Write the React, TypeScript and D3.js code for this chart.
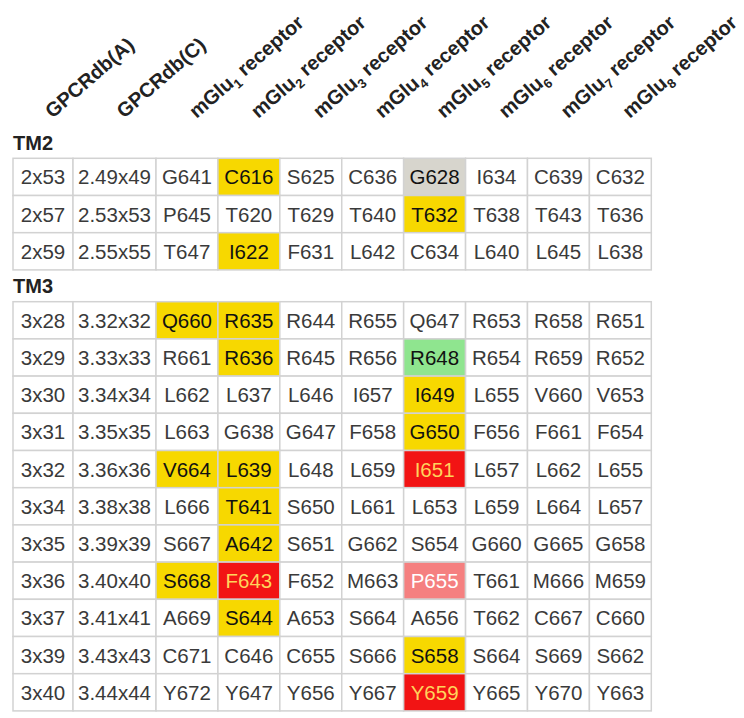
import React from "react";
import * as d3 from "d3";

// ---- data ----
const headerLabels: { main: string; sub?: string; rest?: string }[] = [
  { main: "GPCRdb(A)" },
  { main: "GPCRdb(C)" },
  { main: "mGlu", sub: "1", rest: " receptor" },
  { main: "mGlu", sub: "2", rest: " receptor" },
  { main: "mGlu", sub: "3", rest: " receptor" },
  { main: "mGlu", sub: "4", rest: " receptor" },
  { main: "mGlu", sub: "5", rest: " receptor" },
  { main: "mGlu", sub: "6", rest: " receptor" },
  { main: "mGlu", sub: "7", rest: " receptor" },
  { main: "mGlu", sub: "8", rest: " receptor" },
];

const sectionNames = ["TM2", "TM3"];

const tm2Rows: string[][] = [
  ["2x53", "2.49x49", "G641", "C616", "S625", "C636", "G628", "I634", "C639", "C632"],
  ["2x57", "2.53x53", "P645", "T620", "T629", "T640", "T632", "T638", "T643", "T636"],
  ["2x59", "2.55x55", "T647", "I622", "F631", "L642", "C634", "L640", "L645", "L638"],
];
// highlight codes: Y=yellow, R=red, P=pink, G=green, N=grey
const tm2Marks: string[][] = [
  ["", "", "", "Y", "", "", "N", "", "", ""],
  ["", "", "", "", "", "", "Y", "", "", ""],
  ["", "", "", "Y", "", "", "", "", "", ""],
];

const tm3Rows: string[][] = [
  ["3x28", "3.32x32", "Q660", "R635", "R644", "R655", "Q647", "R653", "R658", "R651"],
  ["3x29", "3.33x33", "R661", "R636", "R645", "R656", "R648", "R654", "R659", "R652"],
  ["3x30", "3.34x34", "L662", "L637", "L646", "I657", "I649", "L655", "V660", "V653"],
  ["3x31", "3.35x35", "L663", "G638", "G647", "F658", "G650", "F656", "F661", "F654"],
  ["3x32", "3.36x36", "V664", "L639", "L648", "L659", "I651", "L657", "L662", "L655"],
  ["3x34", "3.38x38", "L666", "T641", "S650", "L661", "L653", "L659", "L664", "L657"],
  ["3x35", "3.39x39", "S667", "A642", "S651", "G662", "S654", "G660", "G665", "G658"],
  ["3x36", "3.40x40", "S668", "F643", "F652", "M663", "P655", "T661", "M666", "M659"],
  ["3x37", "3.41x41", "A669", "S644", "A653", "S664", "A656", "T662", "C667", "C660"],
  ["3x39", "3.43x43", "C671", "C646", "C655", "S666", "S658", "S664", "S669", "S662"],
  ["3x40", "3.44x44", "Y672", "Y647", "Y656", "Y667", "Y659", "Y665", "Y670", "Y663"],
];
const tm3Marks: string[][] = [
  ["", "", "Y", "Y", "", "", "", "", "", ""],
  ["", "", "", "Y", "", "", "G", "", "", ""],
  ["", "", "", "", "", "", "Y", "", "", ""],
  ["", "", "", "", "", "", "Y", "", "", ""],
  ["", "", "Y", "Y", "", "", "R", "", "", ""],
  ["", "", "", "Y", "", "", "", "", "", ""],
  ["", "", "", "Y", "", "", "", "", "", ""],
  ["", "", "Y", "R", "", "", "P", "", "", ""],
  ["", "", "", "Y", "", "", "", "", "", ""],
  ["", "", "", "", "", "", "Y", "", "", ""],
  ["", "", "", "", "", "", "R", "", "", ""],
];

// ---- styles ----
const FONT = "'Liberation Sans', Arial, Helvetica, sans-serif";
const fillFor: Record<string, string> = {
  "": "#ffffff",
  Y: "#f7d800",
  R: "#f21414",
  P: "#f58080",
  G: "#8fe58f",
  N: "#d7d5cd",
};
const textFor: Record<string, string> = {
  "": "#3a3a3a",
  Y: "#111111",
  R: "#ffd35c",
  P: "#ffffff",
  G: "#111111",
  N: "#111111",
};

const W = 744;
const H = 718;
const left = 13;
const firstColW = 60;
const secondColW = 83;
const tableRight = 651.3;
const rowH = 37.2;

export default function App() {
  const receptorX = d3
    .scaleBand<number>()
    .domain(d3.range(8))
    .range([left + firstColW + secondColW, tableRight])
    .paddingInner(0)
    .paddingOuter(0);

  const colX = (c: number) =>
    c === 0 ? left : c === 1 ? left + firstColW : (receptorX(c - 2) as number);
  const colW = (c: number) =>
    c === 0 ? firstColW : c === 1 ? secondColW : receptorX.bandwidth();

  const sections = [
    { name: sectionNames[0], rows: tm2Rows, marks: tm2Marks, top: 158.3, labelY: 150 },
    { name: sectionNames[1], rows: tm3Rows, marks: tm3Marks, top: 301.7, labelY: 293 },
  ];

  return (
    <svg
      width={W}
      height={H}
      style={{ position: "absolute", left: 0, top: 0, background: "#fff" }}
      fontFamily={FONT}
    >
      <rect width={W} height={H} fill="#fff" />
      {headerLabels.map((h, c) => {
        const cx = colX(c) + colW(c) / 2;
        return (
          <text
            key={"h" + c}
            transform={`translate(${cx + 9.5},${119}) rotate(-41)`}
            fontSize={20}
            fontWeight="bold"
            fill="#222"
          >
            {h.main}
            {h.sub && (
              <tspan fontSize={13} dy={5}>
                {h.sub}
              </tspan>
            )}
            {h.rest && <tspan dy={h.sub ? -5 : 0}>{h.rest}</tspan>}
          </text>
        );
      })}
      {sections.map((s) => {
        const y = d3
          .scaleBand<number>()
          .domain(d3.range(s.rows.length))
          .range([s.top, s.top + rowH * s.rows.length]);
        return (
          <g key={s.name}>
            <text x={left} y={s.labelY} fontSize={20} fontWeight="bold" fill="#222">
              {s.name}
            </text>
            {s.rows.map((row, r) =>
              row.map((val, c) => {
                const m = s.marks[r][c];
                return (
                  <g key={r + "-" + c}>
                    <rect
                      x={colX(c)}
                      y={y(r)}
                      width={colW(c)}
                      height={y.bandwidth()}
                      fill={fillFor[m]}
                      stroke="#d2d2d2"
                      strokeWidth={1.5}
                    />
                    <text
                      x={colX(c) + colW(c) / 2}
                      y={(y(r) as number) + y.bandwidth() / 2 + 7.5}
                      textAnchor="middle"
                      fontSize={20.5}
                      fill={textFor[m]}
                    >
                      {val}
                    </text>
                  </g>
                );
              })
            )}
          </g>
        );
      })}
    </svg>
  );
}
